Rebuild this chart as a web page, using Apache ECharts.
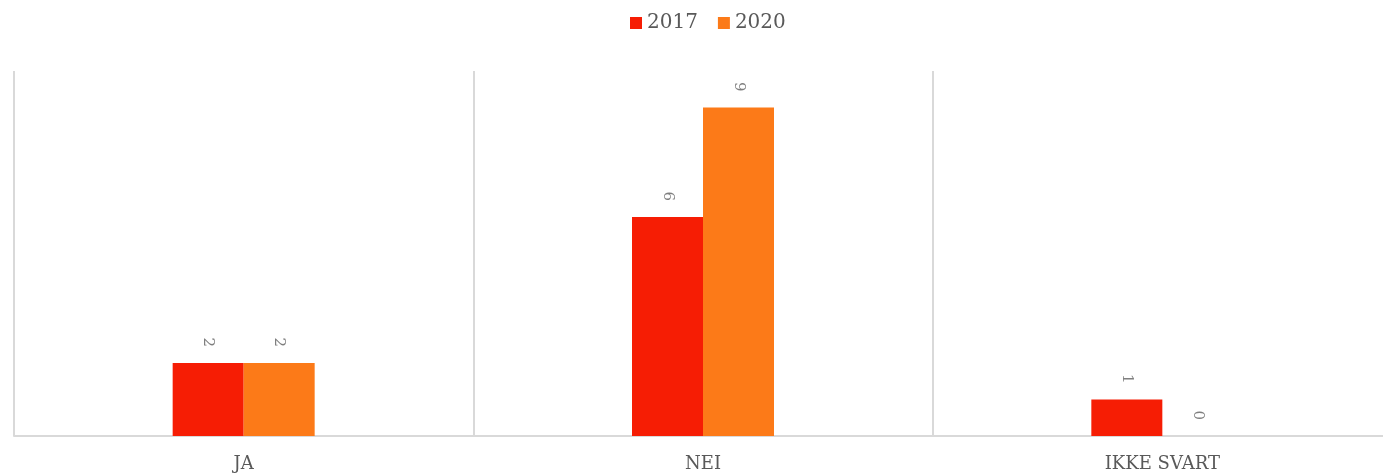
<!DOCTYPE html>
<html>
<head>
<meta charset="utf-8">
<script src="https://cdn.jsdelivr.net/npm/echarts@6/dist/echarts.min.js"></script>
<style>
  html, body { margin: 0; padding: 0; background: #ffffff; overflow: hidden; }
  #wrap { width: 1383px; height: 475px; overflow: hidden; }
  /* plot runs slightly past the right edge of the view */
  #chart { width: 1400px; height: 475px; }
</style>
</head>
<body>
<div id="wrap"><div id="chart"></div></div>
<script>
// Survey answers per category, two survey years
const categories = ['JA', 'NEI', 'IKKE SVART'];
const years = ['2017', '2020'];
const values2017 = [2, 6, 1];
const values2020 = [2, 9, 0];

const colors = ['#F61D04', '#FC7A18'];
const textFont = '"DejaVu Serif", serif';

const barLabel = {
  show: true,
  position: 'top',
  rotate: -90,
  align: 'right',
  verticalAlign: 'middle',
  distance: 16,
  color: '#7f7f7f',
  fontFamily: textFont,
  fontSize: 15
};

const chart = echarts.init(document.getElementById('chart'), null, { renderer: 'canvas' });

chart.setOption({
  animation: false,
  color: colors,
  legend: {
    data: years,
    top: 8,
    left: 625,
    icon: 'rect',
    itemWidth: 12,
    itemHeight: 12,
    itemGap: 20,
    textStyle: { color: '#595959', fontFamily: textFont, fontSize: 20 }
  },
  grid: { left: 14, right: 8, top: 71, bottom: 39, containLabel: false },
  xAxis: {
    type: 'category',
    data: categories,
    axisLine: { show: true, lineStyle: { color: '#d9d9d9', width: 2 } },
    axisTick: { show: false },
    splitLine: { show: true, lineStyle: { color: '#d9d9d9', width: 2 } },
    axisLabel: {
      color: '#595959',
      fontFamily: textFont,
      fontSize: 18,
      margin: 19
    }
  },
  yAxis: {
    type: 'value',
    min: 0,
    max: 10,
    show: false,
    splitLine: { show: false }
  },
  series: [
    {
      name: years[0],
      type: 'bar',
      data: values2017,
      barWidth: 71,
      barGap: '0%',
      label: barLabel
    },
    {
      name: years[1],
      type: 'bar',
      data: values2020,
      barWidth: 71,
      barGap: '0%',
      label: barLabel
    }
  ]
});
</script>
</body>
</html>
